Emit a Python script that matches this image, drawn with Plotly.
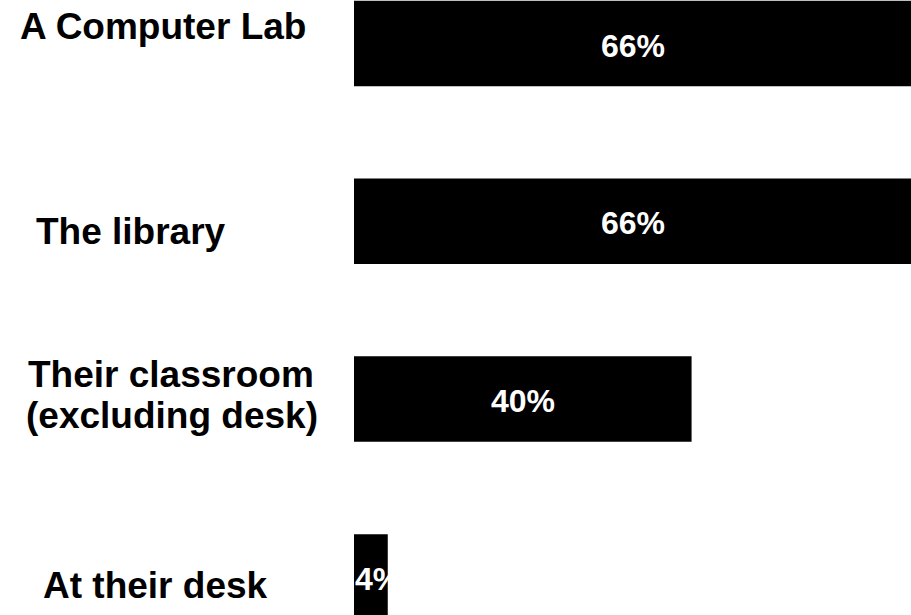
import plotly.graph_objects as go

categories = ["A Computer Lab", "The library", "Their classroom<br>(excluding desk)", "At their desk"]
values = [66, 66, 40, 4]
value_labels = ["66%", "66%", "40%", "4%"]

# label placement tuning (pixel centre x, vertical offset from bar centre; per line)
label_x_centers = [[163.3], [130.9], [170.5, 171.5], [155.8]]
label_y_offsets = [[-17.1], [10.5], [-24.2, 16.7], [8.9]]

FONT = "Liberation Sans, Arial, sans-serif"
PLOT_LEFT = 354
W, H = 911, 615

fig = go.Figure()
fig.add_trace(go.Bar(
    x=values,
    y=categories,
    orientation="h",
    marker=dict(color="#000000", line=dict(width=0)),
    hoverinfo="skip",
    showlegend=False,
))

annotations = []
for cat, xs, offs in zip(categories, label_x_centers, label_y_offsets):
    lines = cat.split("<br>")
    for line, xc, off in zip(lines, xs, offs):
        annotations.append(dict(
            xref="paper", x=0, xanchor="center", xshift=xc - PLOT_LEFT,
            yref="y", y=cat, yanchor="middle", yshift=-off,
            text=line, showarrow=False,
            font=dict(family=FONT, size=37, color="#000000", weight="bold"),
        ))

for cat, v, lab in zip(categories, values, value_labels):
    if v >= 10:
        ax, anchor, xs = v / 2, "center", 0
    else:
        ax, anchor, xs = 0, "left", -1
    annotations.append(dict(
        xref="x", x=ax, xanchor=anchor, xshift=xs,
        yref="y", y=cat, yanchor="middle", yshift=-2,
        text=lab, showarrow=False,
        font=dict(family=FONT, size=32, color="#ffffff", weight="bold"),
    ))

unit = 177.8
c0 = 43.5
fig.update_layout(
    width=W, height=H,
    margin=dict(l=PLOT_LEFT, r=0, t=0, b=0),
    paper_bgcolor="white", plot_bgcolor="white",
    bargap=0.519,
    hovermode=False,
    xaxis=dict(range=[0, 66], visible=False, fixedrange=True),
    yaxis=dict(type="category", categoryorder="array", categoryarray=categories,
               range=[(H - c0) / unit, -c0 / unit],
               visible=False, fixedrange=True),
    annotations=annotations,
)

fig.write_html(
    "out.html",
    config={"displayModeBar": False, "staticPlot": True},
    post_script="document.body.style.margin='0';document.body.style.overflow='hidden';",
)
